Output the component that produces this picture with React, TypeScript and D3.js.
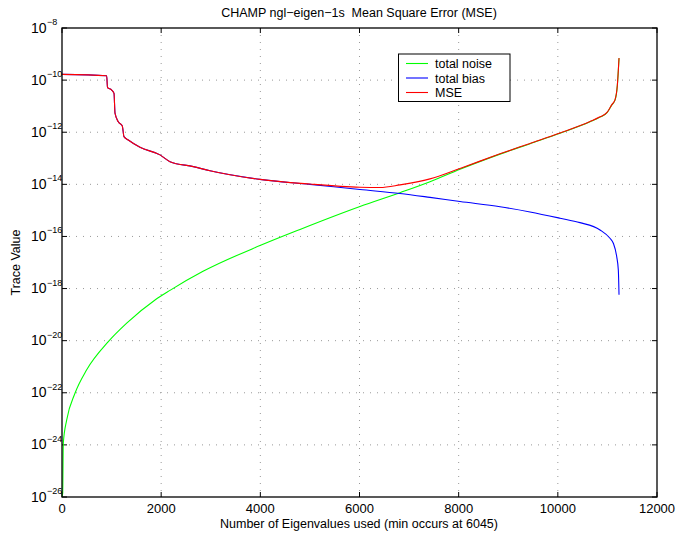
import React from "react";
import * as d3 from "d3";

const xTicks = [0, 2000, 4000, 6000, 8000, 10000, 12000];
const yTickExps = [-8, -10, -12, -14, -16, -18, -20, -22, -24, -26];

// [eigenvalue count, log10(trace value)]
const noiseData: [number, number][] = [
  [0, -26.0], [14, -25.84], [26, -23.94], [95, -23.04], [262, -22.02], [498, -21.12],
  [934, -20.04], [1305, -19.33], [1876, -18.44], [2178, -18.07], [2844, -17.34],
  [3993, -16.35], [4800, -15.73], [6010, -14.85], [6817, -14.32], [7422, -13.9],
  [8027, -13.42], [8834, -12.84], [9439, -12.44], [10044, -12.04], [10649, -11.6],
  [10851, -11.42], [10992, -11.25], [11086, -10.96], [11153, -10.77], [11200, -10.21],
  [11234, -9.16],
];

const biasData: [number, number][] = [
  [0, -9.78], [901, -9.83], [918, -10.29], [1002, -10.38], [1049, -10.51], [1069, -11.27],
  [1135, -11.6], [1216, -11.76], [1250, -12.17], [1337, -12.3], [1573, -12.58],
  [1976, -12.87], [2178, -13.13], [2648, -13.32], [2985, -13.48], [3993, -13.81],
  [5002, -14.0], [6010, -14.2], [6817, -14.35], [7422, -14.5], [8027, -14.66],
  [8834, -14.86], [9439, -15.06], [10044, -15.3], [10447, -15.47], [10851, -15.75],
  [11052, -16.07], [11119, -16.26], [11187, -16.77], [11220, -17.29], [11234, -18.24],
];

const mseData: [number, number][] = [
  [0, -9.78], [901, -9.83], [918, -10.29], [1002, -10.38], [1049, -10.51], [1069, -11.27],
  [1135, -11.6], [1216, -11.76], [1250, -12.17], [1337, -12.3], [1573, -12.58],
  [1976, -12.87], [2178, -13.13], [2648, -13.32], [2985, -13.48], [3993, -13.81],
  [5002, -13.99], [6010, -14.11], [6413, -14.12], [6817, -14.02], [7422, -13.79],
  [8027, -13.39], [8834, -12.83], [9439, -12.43], [10044, -12.03], [10649, -11.59],
  [10851, -11.41], [10992, -11.24], [11086, -10.95], [11153, -10.76], [11200, -10.2],
  [11234, -9.15],
];

const seriesNames = ["total noise", "total bias", "MSE"];
const seriesColors = ["#00ff00", "#0000ff", "#ff0000"];

export default function App() {
  const W = 679, H = 535;
  const left = 62, right = 657, top = 28, bottom = 497;
  const x = d3.scaleLinear().domain([0, 12000]).range([left, right]);
  const y = d3.scaleLinear().domain([-26, -8]).range([bottom, top]);
  const line = d3.line<[number, number]>().x(d => x(d[0])).y(d => y(d[1])).curve(d3.curveMonotoneX);
  const font = "'Liberation Sans', Arial, Helvetica, sans-serif";
  const series = [noiseData, biasData, mseData];
  const tickLen = 5;

  return (
    <svg width={W} height={H} style={{ position: "absolute", left: 0, top: 0, background: "#fff" }} fontFamily={font}>
      <rect x={0} y={0} width={W} height={H} fill="#fff" />
      {/* grid */}
      {xTicks.slice(1, -1).map(t => (
        <line key={"gx" + t} x1={x(t)} x2={x(t)} y1={top} y2={bottom} stroke="#999" strokeWidth={1} strokeDasharray="1,6" />
      ))}
      {yTickExps.slice(1, -1).map(e => (
        <line key={"gy" + e} x1={left} x2={right} y1={y(e)} y2={y(e)} stroke="#999" strokeWidth={1} strokeDasharray="1,6" />
      ))}
      {/* ticks */}
      {xTicks.map(t => (
        <g key={"tx" + t}>
          <line x1={x(t)} x2={x(t)} y1={bottom} y2={bottom - tickLen} stroke="#000" />
          <line x1={x(t)} x2={x(t)} y1={top} y2={top + tickLen} stroke="#000" />
          <text x={x(t)} y={513} fontSize={13} textAnchor="middle" fill="#000">{t}</text>
        </g>
      ))}
      {yTickExps.map(e => (
        <g key={"ty" + e}>
          <line x1={left} x2={left + tickLen} y1={y(e)} y2={y(e)} stroke="#000" />
          <line x1={right} x2={right - tickLen} y1={y(e)} y2={y(e)} stroke="#000" />
          <text x={46.5} y={y(e) + 4.5} fontSize={14} textAnchor="end" fill="#000">10</text>
          <text x={47} y={y(e) - 3} fontSize={9} textAnchor="start" fill="#000">{"\u2212" + Math.abs(e)}</text>
        </g>
      ))}
      {/* lines */}
      <defs>
        <clipPath id="clip"><rect x={left} y={top} width={right - left} height={bottom - top} /></clipPath>
      </defs>
      <g clipPath="url(#clip)">
        {series.map((s, i) => (
          <path key={i} d={line(s) || ""} fill="none" stroke={seriesColors[i]} strokeWidth={1.1} />
        ))}
      </g>
      {/* axes box */}
      <rect x={left} y={top} width={right - left} height={bottom - top} fill="none" stroke="#000" strokeWidth={1.3} />
      {/* legend */}
      <g>
        <rect x={398.5} y={54} width={111.5} height={47.5} fill="#fff" stroke="#000" strokeWidth={1} />
        {seriesNames.map((n, i) => (
          <g key={n}>
            <line x1={406} x2={428} y1={63.5 + i * 14.5} y2={63.5 + i * 14.5} stroke={seriesColors[i]} strokeWidth={1.1} />
            <text x={435} y={63.5 + i * 14.5 + 4.5} fontSize={12.5} fill="#000">{n}</text>
          </g>
        ))}
      </g>
      {/* title & labels */}
      <text x={359} y={17} fontSize={12.5} textAnchor="middle" fill="#000" style={{ whiteSpace: "pre" }}>
        {"CHAMP ngl\u2212eigen\u22121s  Mean Square Error (MSE)"}
      </text>
      <text x={359} y={528} fontSize={12.5} textAnchor="middle" fill="#000">
        Number of Eigenvalues used (min occurs at 6045)
      </text>
      <text transform={`translate(20,${(top + bottom) / 2}) rotate(-90)`} fontSize={12.5} textAnchor="middle" fill="#000">
        Trace Value
      </text>
    </svg>
  );
}
